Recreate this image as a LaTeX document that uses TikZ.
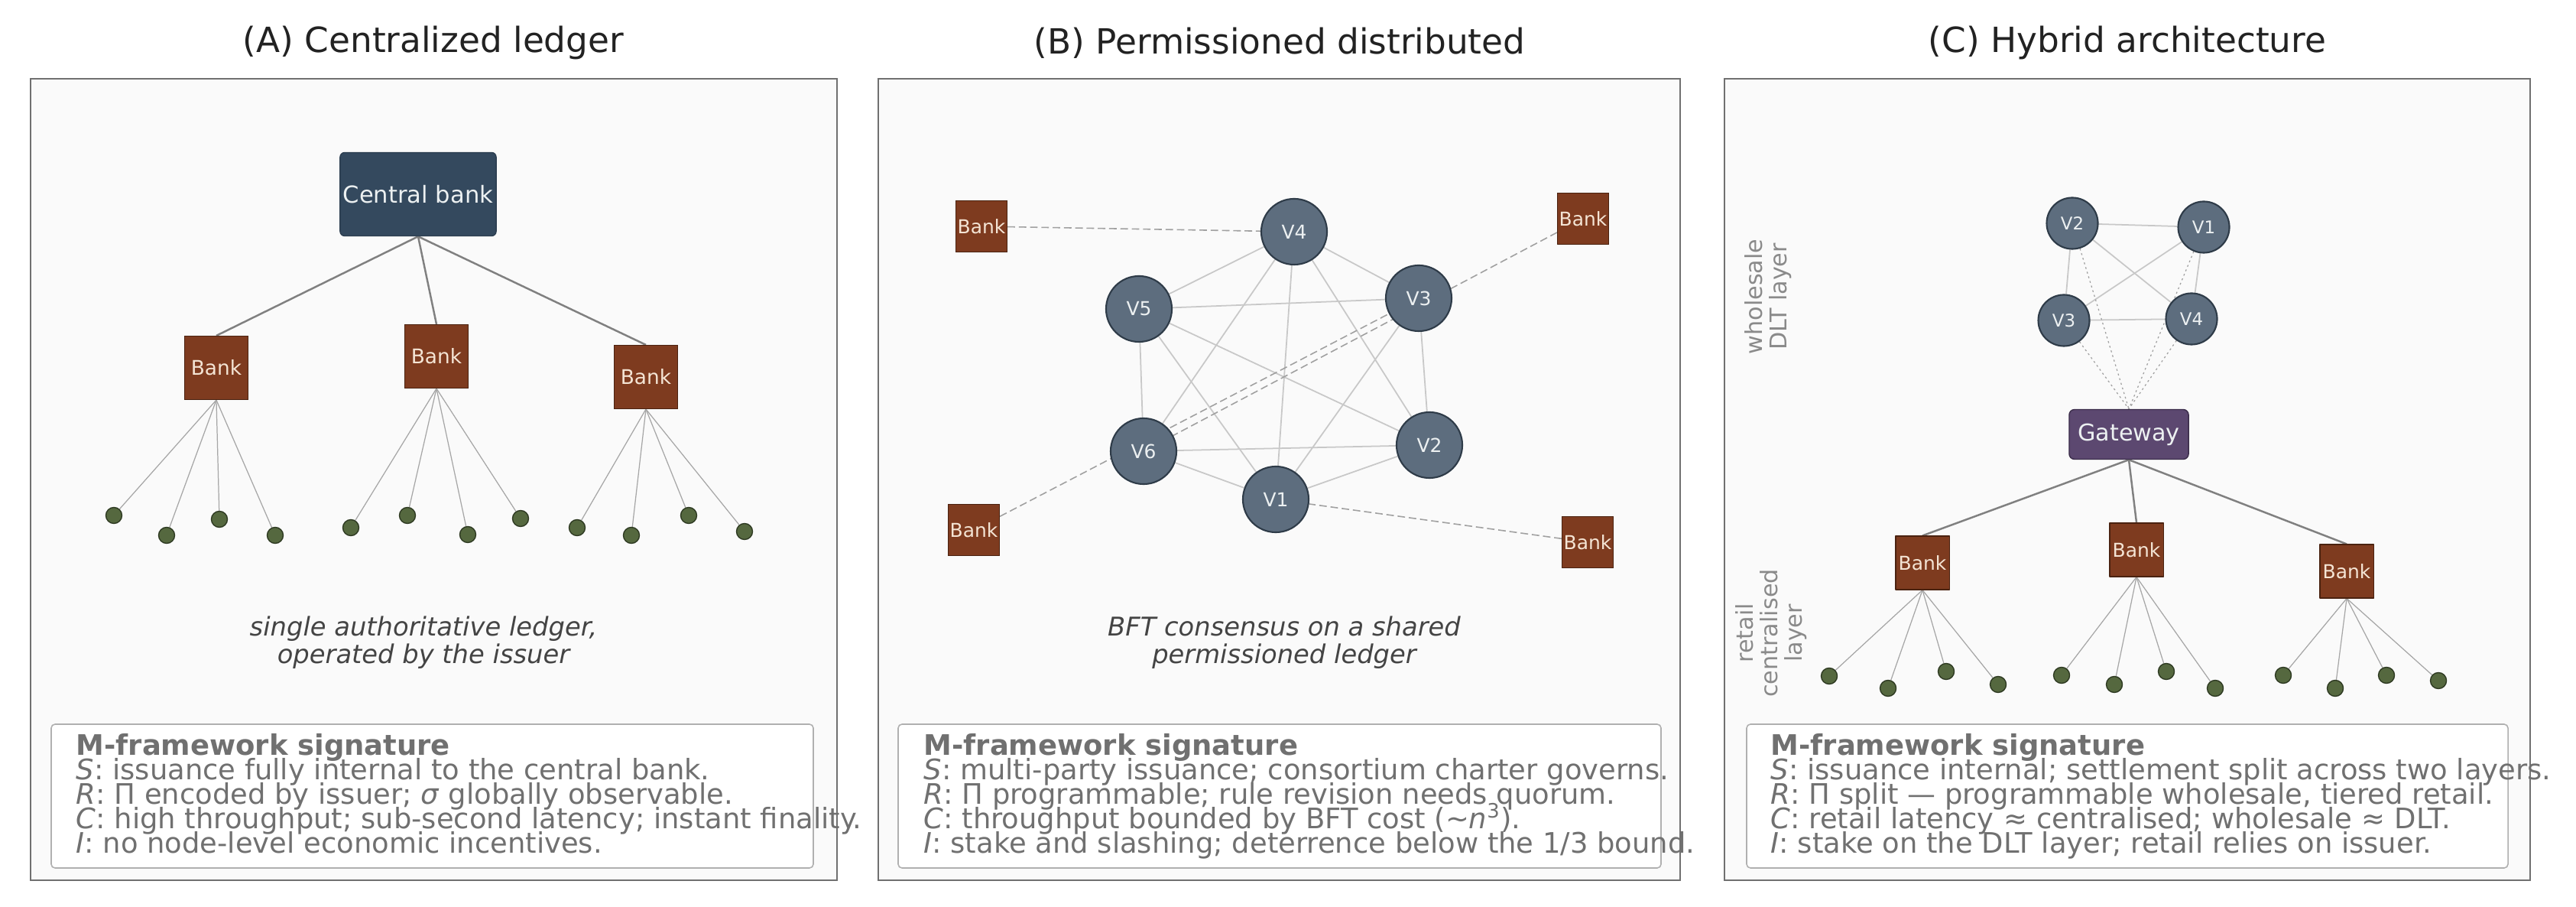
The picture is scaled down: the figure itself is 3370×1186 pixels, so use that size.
\documentclass[tikz,border=0pt]{standalone}
\usepackage{fontspec}
\setmainfont{DejaVu Sans}
\usetikzlibrary{positioning}
\pgfdeclarelayer{panel}
\pgfdeclarelayer{edges}
\pgfsetlayers{panel,edges,main}
\setlength{\lineskiplimit}{-100pt}

\definecolor{panelbg}{HTML}{FAFAFA}
\definecolor{panelline}{HTML}{707070}
\definecolor{cbfill}{HTML}{34495E}
\definecolor{cbline}{HTML}{2C3E50}
\definecolor{cbtext}{HTML}{ECF0F1}
\definecolor{bankfill}{HTML}{7E3B1F}
\definecolor{bankline}{HTML}{4A2210}
\definecolor{banktext}{HTML}{F4E4D4}
\definecolor{vfill}{HTML}{5D6D7E}
\definecolor{vline}{HTML}{2E3B48}
\definecolor{gwfill}{HTML}{5C4870}
\definecolor{gwline}{HTML}{3B2D4A}
\definecolor{userfill}{HTML}{55683F}
\definecolor{userline}{HTML}{2E3A22}
\definecolor{trunkc}{HTML}{808080}
\definecolor{twigc}{HTML}{A6A6A6}
\definecolor{meshc}{HTML}{C8C8C8}
\definecolor{linkc}{HTML}{A0A0A0}
\definecolor{sigline}{HTML}{B0B0B0}
\definecolor{sigc}{HTML}{707070}
\definecolor{capc}{HTML}{444444}
\definecolor{lblc}{HTML}{8A8A8A}
\definecolor{titlec}{HTML}{222222}

\tikzset{
  panelbox/.style={draw=panelline, fill=panelbg, line width=0.6pt},
  paneltitle/.style={text=titlec, inner sep=0, font=\fontsize{12.9}{15}\selectfont},
  cbank/.style={rectangle, rounded corners=0.6mm, fill=cbfill, draw=cbline, line width=0.4pt,
    text=cbtext, minimum width=20.4mm, minimum height=10.9mm, inner sep=0,
    font=\fontsize{8.7}{10}\selectfont},
  bank/.style={rectangle, fill=bankfill, draw=bankline, line width=0.3pt, text=banktext,
    minimum size=#1, inner sep=0, font=\fontsize{7.1}{8}\selectfont},
  bank/.default=6.7mm,
  valid/.style={circle, fill=vfill, draw=vline, line width=0.6pt, text=cbtext,
    minimum size=#1, inner sep=0, font=\fontsize{7.1}{8}\selectfont},
  valid/.default=8.6mm,
  gw/.style={rectangle, rounded corners=0.7mm, fill=gwfill, draw=gwline, line width=0.4pt,
    text=cbtext, minimum width=15.6mm, minimum height=6.5mm, inner sep=0,
    font=\fontsize{8.6}{10}\selectfont},
  user/.style={circle, fill=userfill, draw=userline, line width=0.4pt, minimum size=2.1mm, inner sep=0},
  trunk/.style={draw=trunkc, line width=0.7pt},
  twig/.style={draw=twigc, line width=0.35pt},
  mesh/.style={draw=meshc, line width=0.5pt},
  link/.style={draw=linkc, line width=0.45pt, dash pattern=on 2.8pt off 1.4pt},
  feed/.style={draw=linkc, line width=0.35pt, dash pattern=on 0.7pt off 1.1pt},
  sigbox/.style={draw=sigline, fill=white, rounded corners=0.5mm, line width=0.45pt},
  sigtext/.style={anchor=north west, inner sep=0, align=left, text=sigc,
    font=\fontsize{10.5}{9.1}\selectfont},
  capt/.style={align=center, inner sep=0, text=capc, font=\itshape\fontsize{9.6}{10.2}\selectfont},
  layerlbl/.style={rotate=90, align=center, inner sep=0, text=lblc,
    font=\fontsize{8.6}{9.2}\selectfont}
}

\begin{document}
\begin{tikzpicture}[x=0.01cm, y=-0.01cm, line join=round, line cap=round]
\useasboundingbox (0,0) rectangle (3370,1186);

% frames
\begin{pgfonlayer}{panel}
  \draw[panelbox] (40,103) rectangle (1095,1151);
  \draw[panelbox] (1149,103) rectangle (2198,1151);
  \draw[panelbox] (2256,103) rectangle (3310,1151);
\end{pgfonlayer}
\node[paneltitle] (titleA) at (567,56) {(A) Centralized ledger};
\node[paneltitle] (titleB) at (1674,56) {(B) Permissioned distributed};
\node[paneltitle] (titleC) at (2783,56) {(C) Hybrid architecture};

% (A) centralized
\node[cbank] (cb) at (547,254) {Central bank};
\node[bank=8.3mm, font=\fontsize{7.5}{9}\selectfont] (bankA1) at (283,481) {Bank};
\node[bank=8.3mm, font=\fontsize{7.5}{9}\selectfont] (bankA2) at (571,466) {Bank};
\node[bank=8.3mm, font=\fontsize{7.5}{9}\selectfont] (bankA3) at (845,493) {Bank};
\begin{pgfonlayer}{edges}
  \foreach \b in {bankA1,bankA2,bankA3} \draw[trunk] (cb.south) -- (\b.north);
\end{pgfonlayer}
\foreach \i/\p/\x/\y in {1/bankA1/149/674, 2/bankA1/218/700, 3/bankA1/287/679, 4/bankA1/360/700,
    5/bankA2/459/690, 6/bankA2/533/674, 7/bankA2/612/699, 8/bankA2/681/678,
    9/bankA3/755/690, 10/bankA3/826/700, 11/bankA3/901/674, 12/bankA3/974/695} {
  \node[user] (dotA\i) at (\x,\y) {};
  \begin{pgfonlayer}{edges}
    \draw[twig] (\p.south) -- (dotA\i);
  \end{pgfonlayer}
}
\node[capt] (capA) at (554,840) {single authoritative ledger,\\operated by the issuer};
\draw[sigbox] (67,947) rectangle (1064,1135);
\node[sigtext] (sigA) at (99,959) {\textbf{M-framework signature}\\
  \textit{S}: issuance fully internal to the central bank.\\
  \textit{R}: Π encoded by issuer; \textit{σ} globally observable.\\
  \textit{C}: high throughput; sub-second latency; instant finality.\\
  \textit{I}: no node-level economic incentives.};

% (B) permissioned
\node[valid] (bV4) at (1693,303) {V4};
\node[valid] (bV5) at (1490,404) {V5};
\node[valid] (bV3) at (1856,390) {V3};
\node[valid] (bV6) at (1496,590) {V6};
\node[valid] (bV2) at (1870,582) {V2};
\node[valid] (bV1) at (1669,653) {V1};
\node[bank] (bankBtl) at (1284,296) {Bank};
\node[bank] (bankBtr) at (2071,286) {Bank};
\node[bank] (bankBbl) at (1274,693) {Bank};
\node[bank] (bankBbr) at (2077,709) {Bank};
\begin{pgfonlayer}{edges}
  \foreach \u/\v in {V4/V5, V4/V3, V4/V6, V4/V1, V4/V2, V5/V3, V5/V6, V5/V1, V5/V2,
      V3/V2, V3/V1, V6/V2, V6/V1, V2/V1}
    \draw[mesh] (b\u) -- (b\v);
  \draw[link] (bankBtl) -- (bV4);
  \draw[link] (bankBtr) -- (bV6);
  \draw[link] (bankBbl) -- (bV3);
  \draw[link] (bankBbr) -- (bV1);
\end{pgfonlayer}
\node[capt] (capB) at (1680,840) {BFT consensus on a shared\\permissioned ledger};
\draw[sigbox] (1175,947) rectangle (2173,1135);
\node[sigtext] (sigB) at (1208,959) {\textbf{M-framework signature}\\
  \textit{S}: multi-party issuance; consortium charter governs.\\
  \textit{R}: Π programmable; rule revision needs quorum.\\
  \textit{C}: throughput bounded by BFT cost (∼\textit{n}\textsuperscript{3}).\\
  \textit{I}: stake and slashing; deterrence below the 1/3 bound.};

% (C) hybrid
\node[valid=6.7mm, font=\fontsize{6.5}{8}\selectfont] (cV2) at (2711,292) {V2};
\node[valid=6.7mm, font=\fontsize{6.5}{8}\selectfont] (cV1) at (2883,297) {V1};
\node[valid=6.7mm, font=\fontsize{6.5}{8}\selectfont] (cV3) at (2700,419) {V3};
\node[valid=6.7mm, font=\fontsize{6.5}{8}\selectfont] (cV4) at (2867,417) {V4};
\node[gw] (gate) at (2785,568) {Gateway};
\node[bank=7mm] (bankC1) at (2515,736) {Bank};
\node[bank=7mm] (bankC2) at (2795,719) {Bank};
\node[bank=7mm] (bankC3) at (3070,747) {Bank};
\begin{pgfonlayer}{edges}
  \foreach \u/\v in {V2/V1, V3/V4, V2/V3, V1/V4, V2/V4, V1/V3}
    \draw[mesh] (c\u) -- (c\v);
  \foreach \v in {V1,V2,V3,V4}
    \draw[feed] (c\v) -- (gate.north);
  \foreach \b in {bankC1,bankC2,bankC3} \draw[trunk] (gate.south) -- (\b.north);
\end{pgfonlayer}
\foreach \i/\p/\x/\y in {1/bankC1/2393/884, 2/bankC1/2470/900, 3/bankC1/2546/878, 4/bankC1/2614/895,
    5/bankC2/2697/883, 6/bankC2/2766/895, 7/bankC2/2834/878, 8/bankC2/2898/900,
    9/bankC3/2987/883, 10/bankC3/3055/900, 11/bankC3/3122/883, 12/bankC3/3190/890} {
  \node[user] (dotC\i) at (\x,\y) {};
  \begin{pgfonlayer}{edges}
    \draw[twig] (\p.south) -- (dotC\i);
  \end{pgfonlayer}
}
\node[layerlbl] (lblW) at (2313,388) {wholesale\\DLT layer};
\node[layerlbl] (lblR) at (2317,828) {retail\\centralised\\layer};
\draw[sigbox] (2285,947) rectangle (3281,1135);
\node[sigtext] (sigC) at (2316,959) {\textbf{M-framework signature}\\
  \textit{S}: issuance internal; settlement split across two layers.\\
  \textit{R}: Π split — programmable wholesale, tiered retail.\\
  \textit{C}: retail latency\,\,≈\,\,centralised; wholesale\,\,≈\,\,DLT.\\
  \textit{I}: stake on the DLT layer; retail relies on issuer.};
\end{tikzpicture}
\end{document}
